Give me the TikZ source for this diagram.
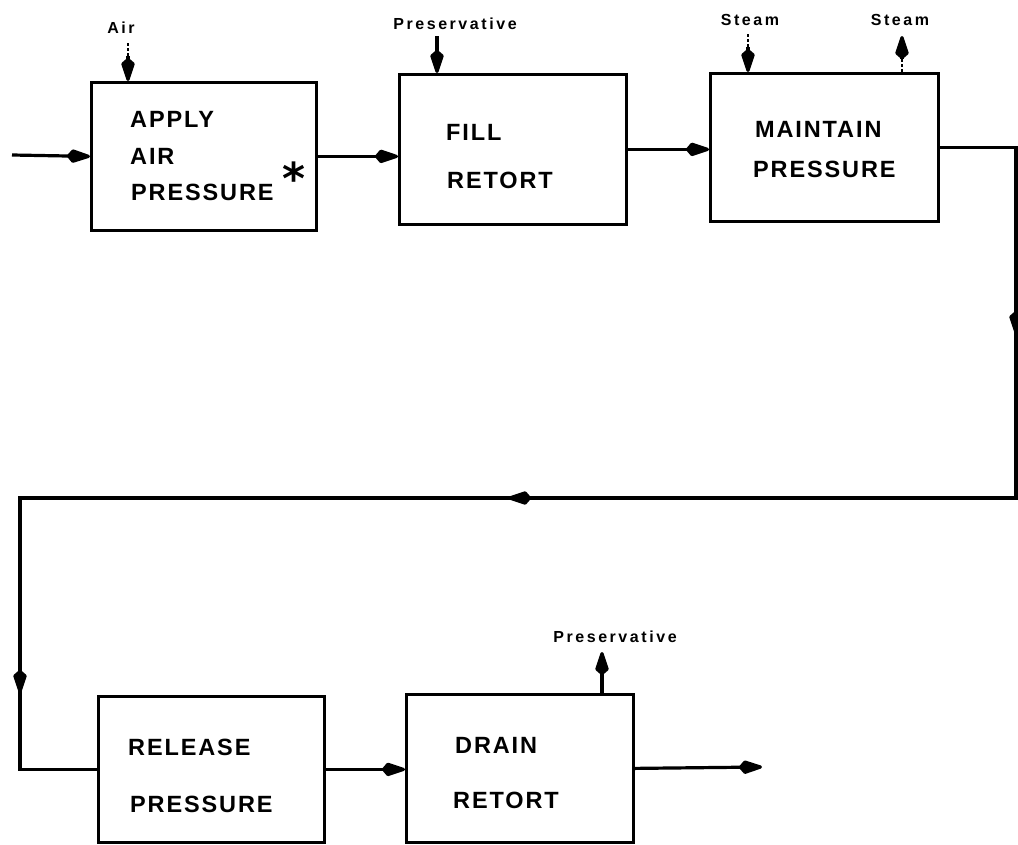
\documentclass[tikz,border=0pt]{standalone}
\usepackage{fontspec}
\usetikzlibrary{arrows.meta}
\newfontfamily\bxf{Liberation Sans}[LetterSpace=8]
\newfontfamily\lbf{Liberation Sans}[LetterSpace=16]
\begin{document}
\begin{tikzpicture}[x=1pt,y=-1pt,
  box/.style={draw, line width=2.8pt, inner sep=0pt, anchor=north west},
  btxt/.style={anchor=base west, inner sep=0pt, font=\bxf\bfseries\fontsize{23.5}{28}\selectfont},
  ltxt/.style={anchor=base, inner sep=0pt, font=\lbf\bfseries\fontsize{16}{19}\selectfont},
  flow/.style={line width=3.2pt},
  arr/.style={flow, -{Kite[length=27pt,width=14pt,inset=6pt,round]}},
  dots/.style={line width=2.8pt, dash pattern=on 2.6pt off 2.6pt}]
\useasboundingbox (0,0) rectangle (1018,844);

% boxes
\node[box, minimum width=225pt, minimum height=148pt] (b1) at (90,81) {};
\node[box, minimum width=227pt, minimum height=150pt] (b2) at (398,73) {};
\node[box, minimum width=228pt, minimum height=148pt] (b3) at (709,72) {};
\node[box, minimum width=226pt, minimum height=146pt] (b4) at (97,695) {};
\node[box, minimum width=227pt, minimum height=148pt] (b5) at (405,693) {};

% box texts
\node[btxt] (t1a) at (130,127) {APPLY};
\node[btxt] (t1b) at (130,164) {AIR};
\node[btxt] (t1c) at (131,200) {PRESSURE};
\node[anchor=base, inner sep=0pt, font=\fontspec{DejaVu Sans}\bfseries\fontsize{44}{44}\selectfont] (ast) at (294,194) {*};
\node[btxt] (t2a) at (446,140) {FILL};
\node[btxt] (t2b) at (447,188) {RETORT};
\node[btxt] (t3a) at (755,137) {MAINTAIN};
\node[btxt] (t3b) at (753,177) {PRESSURE};
\node[btxt] (t4a) at (128,755) {RELEASE};
\node[btxt] (t4b) at (130,812) {PRESSURE};
\node[btxt] (t5a) at (455,753) {DRAIN};
\node[btxt] (t5b) at (453,808) {RETORT};

% labels
\node[ltxt] (lair) at (121,33) {Air};
\node[ltxt] (lpr1) at (455,29) {Preservative};
\node[ltxt] (lst1) at (750,25) {Steam};
\node[ltxt] (lst2) at (900,25) {Steam};
\node[ltxt] (lpr2) at (615,642) {Preservative};

% main flow
\coordinate (in) at (12,155);
\draw[arr] (in) -- (b1.west);
\draw[arr] (b1.east) -- (b1.east -| b2.west);
\draw[arr] (b2.east) -- (b2.east -| b3.west);
\coordinate (r2) at (1016,498);
\coordinate (l1) at (20,498);
\draw[flow, line join=miter] (b3.east) -| (r2) -- (l1) |- (b4.west);
\coordinate (ra0) at (1016,290);
\coordinate (ra) at (1016,334);
\draw[arr] (ra0) -- (ra);
\coordinate (ha0) at (560,498);
\coordinate (ha) at (508,498);
\draw[arr] (ha0) -- (ha);
\coordinate (va0) at (20,640);
\coordinate (va) at (20,693);
\draw[arr] (va0) -- (va);
\draw[arr] (b4.east) -- (b4.east -| b5.west);
\coordinate (out) at (762,767);
\draw[arr] (b5.east) -- (out);

% side inputs / outputs
\coordinate (a0) at (128,43);
\coordinate (a1) at (128,56);
\draw[dots] (a0) -- (a1);
\draw[arr] (a1) -- (a1 |- b1.north);

\coordinate (p0) at (437,36);
\draw[arr] (p0) -- (p0 |- b2.north);

\coordinate (s0) at (748,34);
\coordinate (s1) at (748,47);
\draw[dots] (s0) -- (s1);
\draw[arr] (s1) -- (s1 |- b3.north);

\coordinate (u1) at (902,59);
\coordinate (u2) at (902,36);
\draw[dots] (u1 |- b3.north) -- (u1);
\draw[arr] (u1) -- (u2);

\coordinate (q1) at (602,652);
\draw[arr] (q1 |- b5.north) -- (q1);
\end{tikzpicture}
\end{document}
